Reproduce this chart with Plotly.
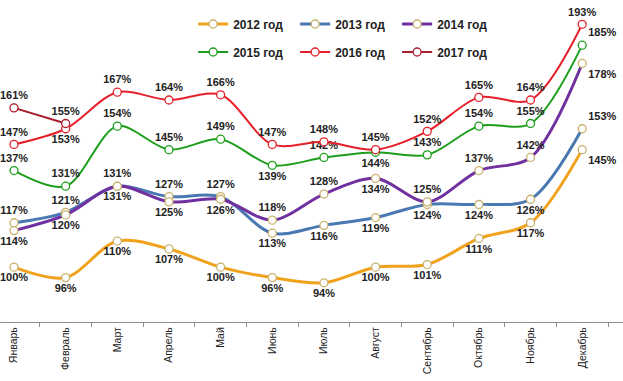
import plotly.graph_objects as go

months = ["Январь", "Февраль", "Март", "Апрель", "Май", "Июнь", "Июль",
          "Август", "Сентябрь", "Октябрь", "Ноябрь", "Декабрь"]

y2012 = [100, 96, 110, 107, 100, 96, 94, 100, 101, 111, 117, 145]
y2013 = [117, 121, 131, 127, 127, 113, 116, 119, 124, 124, 126, 153]
y2014 = [114, 120, 131, 125, 126, 118, 128, 134, 125, 137, 142, 178]
y2015 = [137, 131, 154, 145, 149, 139, 142, 144, 143, 154, 155, 185]
y2016 = [147, 153, 167, 164, 166, 147, 148, 145, 152, 165, 164, 193]
y2017 = [161, 155]

T, B = "top center", "bottom center"
pos2012 = [B] * 11 + ["bottom right"]
pos2013 = [T, T, T, T, T, B, B, B, B, B, B, "top right"]
pos2014 = [B, B, B, B, B, T, T, B, T, T, T, "bottom right"]
pos2015 = [T, T, T, T, T, B, T, B, T, T, T, "top right"]
pos2016 = [T, B, T, T, T, T, T, T, T, T, T, T]
pos2017 = [T, T]

series = [
    ("2012 год", y2012, pos2012, "#F0A21C", "#C8B26E", 3, "legend"),
    ("2013 год", y2013, pos2013, "#4A78B2", "#C8B26E", 3, "legend"),
    ("2014 год", y2014, pos2014, "#7030A0", "#C8B26E", 3, "legend"),
    ("2015 год", y2015, pos2015, "#1C9E1C", "#1C9E1C", 2, "legend2"),
    ("2016 год", y2016, pos2016, "#E5202A", "#E5202A", 2, "legend2"),
    ("2017 год", y2017, pos2017, "#A81E2C", "#A81E2C", 2, "legend2"),
]

fig = go.Figure()
for name, vals, pos, col, mcol, w, leg in series:
    fig.add_trace(go.Scatter(
        x=months[:len(vals)], y=vals, name=name,
        mode="lines+markers+text",
        line=dict(color=col, width=w, shape="spline", smoothing=0.9),
        marker=dict(symbol="circle", size=8, color="white",
                    line=dict(color=mcol, width=1.3)),
        text=[f"{v}%" for v in vals], textposition=pos,
        textfont=dict(family="Liberation Sans", size=11, color="#222222",
                      weight="bold"),
        legend=leg, cliponaxis=False,
    ))

legend_common = dict(orientation="h", entrywidth=57, entrywidthmode="pixels",
                     font=dict(family="Liberation Sans", size=12, color="#222222",
                               weight="bold"),
                     bgcolor="rgba(0,0,0,0)", xanchor="left", yanchor="middle",
                     itemwidth=30, tracegroupgap=0)

fig.update_layout(
    width=623, height=381,
    margin=dict(l=0, r=0, t=6, b=59, autoexpand=False),
    paper_bgcolor="white", plot_bgcolor="white",
    showlegend=True,
    legend=dict(x=0.31, y=1 - (24 - 6) / 316, **legend_common),
    legend2=dict(x=0.31, y=1 - (52 - 6) / 316, **legend_common),
    xaxis=dict(type="category", categoryorder="array", categoryarray=months,
               range=[-0.271, 11.79], showgrid=False, showline=True,
               linecolor="#8c8c8c", linewidth=1, ticks="outside", ticklen=4,
               tickcolor="#8c8c8c", tickson="boundaries", tickangle=-90,
               automargin=False,
               tickfont=dict(family="Liberation Sans", size=10.5, color="#222222"),
               zeroline=False),
    yaxis=dict(range=[79, 200], visible=False, showgrid=False, zeroline=False,
               automargin=False),
)

fig.write_html("out.html", config={"displayModeBar": False},
               post_script="document.body.style.margin='0';"
                           "document.body.style.overflow='hidden';")
